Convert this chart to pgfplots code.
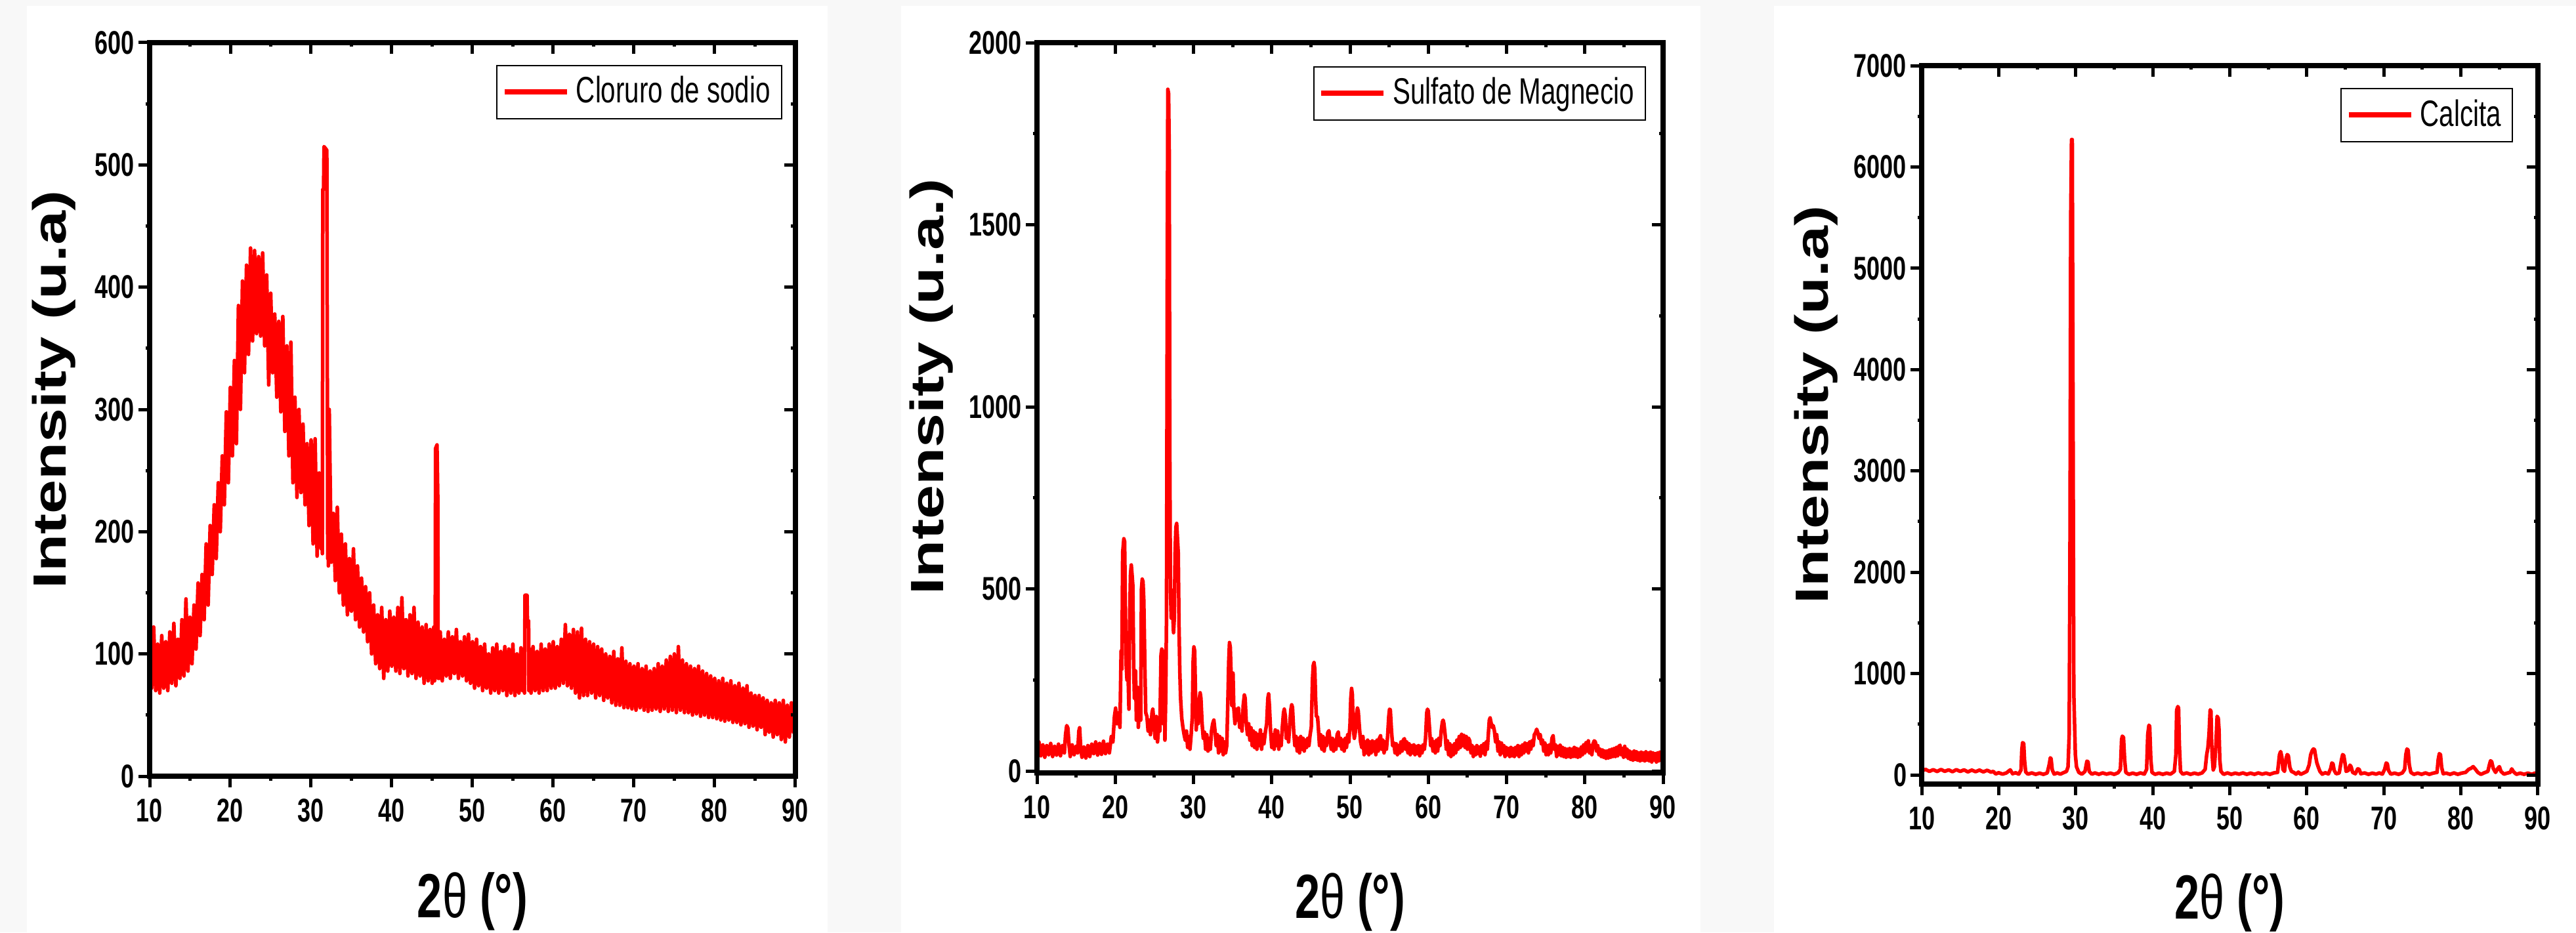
\documentclass[border=0pt]{standalone}
\usepackage{fontspec}
\usepackage{graphicx}
\usepackage{pgfplots}
\pgfplotsset{compat=1.18}

\newfontfamily\narrowsans{Liberation Sans}[FakeStretch=0.72]
\newfontfamily\plainsans{Liberation Sans}
\newcommand\ticklabfont{\fontsize{10}{12}\selectfont\narrowsans\bfseries}
\newcommand\xlabfont{\fontsize{19}{22}\selectfont\narrowsans\bfseries}
\newcommand\ylabfont{\fontsize{18.7}{22}\selectfont\plainsans\bfseries}
\newcommand\legfont{\fontsize{11.2}{13}\selectfont\narrowsans}
\definecolor{xrdred}{RGB}{255,0,0}
\definecolor{bggray}{RGB}{248,248,248}

\pgfplotsset{
  xrd/.style={
    scale only axis,
    xmin=10, xmax=90,
    xtick={10,20,...,90},
    minor x tick num=1, minor y tick num=1,
    axis line style={line width=1.6pt, line cap=rect},
    major tick length=3.4pt, minor tick length=1.3pt,
    tick style={black, line width=1pt},
  },
  xrdmain/.style={
    xrd,
    tick align=outside, tick pos=left,
    ticklabel style={font=\ticklabfont},
    yticklabel style={inner sep=1pt},
    /pgf/number format/assume math mode=true,
    /pgf/number format/1000 sep={},
    legend style={draw=black, line width=0.4pt, font=\legfont,
      anchor=north east, inner xsep=1.5pt, inner ysep=1.3pt},
    legend cell align=left,
    legend image code/.code={\draw[xrdred, line width=1.6pt] (0pt,0pt) -- (19pt,0pt);},
  },
  xrdtop/.style={
    xrd,
    tick align=inside, tick pos=right,
    xticklabels={}, yticklabels={},
  },
  spec/.style={xrdred, line width=1.1pt, line join=round, no marks},
  p1/.style={at={(45.6pt,47.6pt)}, anchor=south west, width=196.8pt, height=223.6pt,
    ymin=0, ymax=600, ytick={0,100,...,600}},
  p2/.style={at={(316pt,48.6pt)}, anchor=south west, width=190.8pt, height=222.6pt,
    ymin=-5, ymax=2000, ytick={0,500,...,2000}},
  p3/.style={at={(585.6pt,45.2pt)}, anchor=south west, width=187.8pt, height=219pt,
    ymin=-90, ymax=7000, ytick={0,1000,...,7000}},
}

\begin{document}
\begin{tikzpicture}
% page background and the three white panels
\fill[bggray] (0,0) rectangle (785pt,284.2pt);
\fill[white] (8.2pt,0) rectangle (252.2pt,282.4pt);
\fill[white] (274.6pt,0) rectangle (518.2pt,282.4pt);
\fill[white] (540.6pt,0) rectangle (785pt,282.4pt);

% ---------- Cloruro de sodio ----------
\begin{axis}[xrdmain, p1,
  xlabel={\xlabfont 2{\mdseries θ} (°)},
  xlabel style={at={(axis description cs:0.5,-0.13)}, anchor=north, inner sep=0pt},
  ylabel={\scalebox{1}[0.76]{\ylabfont Intensity (u.a)}},
  ylabel style={at={(axis description cs:-0.148,0.527)}, anchor=center, inner sep=0pt},
  legend style={at={(0.98,0.97)}},
]
\addplot[spec] coordinates {
(10.00,118)(10.25,72)(10.50,122)(10.75,70)(11.00,108)(11.25,68)(11.50,115)(11.75,72)
(12.00,110)(12.25,70)(12.50,118)(12.75,76)(13.00,125)(13.25,74)(13.50,112)(13.75,80)
(14.00,128)(14.25,82)(14.50,145)(14.75,86)(15.00,130)(15.25,92)(15.50,140)(15.75,104)
(16.00,158)(16.25,115)(16.50,165)(16.75,128)(17.00,190)(17.25,140)(17.50,205)(17.75,165)
(18.00,222)(18.25,178)(18.50,240)(18.75,200)(19.00,262)(19.25,222)(19.50,298)(19.75,240)
(20.00,318)(20.25,262)(20.50,340)(20.75,272)(21.00,385)(21.25,300)(21.50,405)(21.75,330)
(22.00,418)(22.25,345)(22.50,432)(22.75,356)(23.00,430)(23.25,362)(23.50,425)(23.75,360)
(24.00,428)(24.25,352)(24.50,410)(24.75,320)(25.00,395)(25.25,330)(25.50,378)(25.75,310)
(26.00,372)(26.25,298)(26.50,376)(26.75,282)(27.00,352)(27.25,262)(27.50,355)(27.75,240)
(28.00,310)(28.25,228)(28.50,300)(28.75,232)(29.00,288)(29.25,222)(29.50,272)(29.75,205)
(30.00,275)(30.25,190)(30.50,276)(30.75,180)(31.00,248)(31.25,186)(31.35,245)(31.40,182)
(31.45,480)(31.55,480)(31.60,515)(31.95,512)(32.02,305)(32.06,178)(32.10,260)(32.14,172)
(32.25,300)(32.50,175)(32.75,215)(33.00,160)(33.25,220)(33.50,150)(33.75,198)(34.00,140)
(34.25,190)(34.50,132)(34.75,178)(35.00,135)(35.25,186)(35.50,128)(35.75,172)(36.00,122)
(36.25,162)(36.50,118)(36.75,155)(37.00,110)(37.25,150)(37.50,100)(37.75,140)(38.00,92)
(38.25,132)(38.50,88)(38.75,138)(39.00,80)(39.25,128)(39.50,86)(39.75,135)(40.00,90)
(40.25,130)(40.50,86)(40.75,138)(41.00,84)(41.25,146)(41.50,88)(41.75,128)(42.00,82)
(42.25,132)(42.50,84)(42.75,138)(43.00,80)(43.25,126)(43.50,82)(43.75,122)(44.00,76)
(44.25,124)(44.50,78)(44.75,120)(45.00,76)(45.20,122)(45.30,78)(45.38,120)
(45.42,268)(45.60,271)(45.70,227)(45.74,80)(45.80,118)(45.88,80)
(46.00,118)(46.25,78)(46.50,112)(46.75,82)(47.00,118)(47.25,80)(47.50,114)(47.75,84)
(48.00,120)(48.25,80)(48.50,110)(48.75,82)(49.00,114)(49.25,78)(49.50,116)(49.75,76)
(50.00,110)(50.25,72)(50.50,112)(50.75,74)(51.00,106)(51.25,70)(51.50,108)(51.75,72)
(52.00,100)(52.25,68)(52.50,105)(52.75,70)(53.00,108)(53.25,68)(53.50,102)(53.75,70)
(54.00,106)(54.25,66)(54.50,104)(54.75,68)(55.00,108)(55.25,66)(55.50,100)(55.75,68)
(56.00,105)(56.20,70)(56.35,104)(56.44,68)(56.50,148)(56.75,148)(56.80,127)(56.95,127)
(56.98,70)(57.10,104)
(57.25,68)(57.50,106)(57.75,70)(58.00,102)(58.25,68)(58.50,108)(58.75,70)(59.00,104)
(59.25,70)(59.50,108)(59.75,72)(60.00,110)(60.25,72)(60.50,106)(60.75,74)(61.00,112)
(61.25,76)(61.50,124)(61.75,74)(62.00,116)(62.25,72)(62.50,120)(62.75,68)(63.00,118)
(63.25,64)(63.50,121)(63.75,66)(64.00,112)(64.25,66)(64.50,110)(64.75,68)(65.00,108)
(65.25,64)(65.50,106)(65.75,66)(66.00,104)(66.25,62)(66.50,100)(66.75,64)(67.00,98)
(67.25,60)(67.50,102)(67.75,58)(68.00,96)(68.25,58)(68.50,105)(68.75,56)(69.00,94)
(69.25,56)(69.50,92)(69.75,55)(70.00,90)(70.25,54)(70.50,92)(70.75,56)(71.00,88)
(71.25,54)(71.50,90)(71.75,53)(72.00,86)(72.25,54)(72.50,88)(72.75,55)(73.00,92)
(73.25,53)(73.50,90)(73.75,55)(74.00,95)(74.25,53)(74.50,98)(74.75,54)(75.00,100)
(75.25,52)(75.50,106)(75.75,54)(76.00,95)(76.25,52)(76.50,92)(76.75,52)(77.00,90)
(77.25,50)(77.50,88)(77.75,51)(78.00,90)(78.25,49)(78.50,86)(78.75,50)(79.00,84)
(79.25,48)(79.50,82)(79.75,48)(80.00,80)(80.25,47)(80.50,78)(80.75,46)(81.00,80)
(81.25,45)(81.50,76)(81.75,46)(82.00,78)(82.25,44)(82.50,74)(82.75,44)(83.00,76)
(83.25,42)(83.50,72)(83.75,43)(84.00,74)(84.25,40)(84.50,68)(84.75,41)(85.00,66)
(85.25,38)(85.50,66)(85.75,40)(86.00,64)(86.25,34)(86.50,62)(86.75,36)(87.00,60)
(87.25,32)(87.50,62)(87.75,34)(88.00,60)(88.25,30)(88.50,62)(88.75,28)(89.00,58)
(89.25,32)(89.50,60)(89.75,36)(90.00,50)
};
\addlegendentry{Cloruro de sodio}
\end{axis}
\begin{axis}[xrdtop, p1]
\end{axis}

% ---------- Sulfato de Magnecio ----------
\begin{axis}[xrdmain, p2,
  xlabel={\xlabfont 2{\mdseries θ} (°)},
  xlabel style={at={(axis description cs:0.5,-0.136)}, anchor=north, inner sep=0pt},
  ylabel={\scalebox{1}[0.76]{\ylabfont Intensity (u.a.)}},
  ylabel style={at={(axis description cs:-0.169,0.529)}, anchor=center, inner sep=0pt},
  legend style={at={(0.973,0.968)}},
]
\addplot[spec] coordinates {
(10.00,60)(10.25,80)(10.50,42)(10.75,72)(11.00,38)(11.25,70)(11.50,45)(11.75,76)
(12.00,40)(12.25,68)(12.50,44)(12.75,74)(13.00,42)(13.25,70)(13.50,50)
(13.65,100)(13.80,125)(13.95,118)(14.10,70)(14.25,40)(14.50,72)(14.75,45)(15.00,68)
(15.20,50)(15.35,110)(15.45,119)(15.60,60)(15.75,38)(16.00,66)(16.25,36)(16.50,70)
(16.75,40)(17.00,74)(17.25,48)(17.50,80)(17.75,44)(18.00,76)(18.25,46)(18.50,82)
(18.75,48)(19.00,74)(19.25,50)(19.50,95)(19.70,80)(19.90,150)(20.05,173)(20.20,130)
(20.40,160)(20.60,120)(20.75,330)(20.85,280)(20.95,600)(21.10,638)(21.20,630)(21.30,450)
(21.40,290)(21.50,250)(21.60,300)(21.75,170)(21.85,430)(21.95,540)(22.05,566)(22.15,540)
(22.25,510)(22.35,300)(22.45,200)(22.60,275)(22.70,140)(22.85,230)(22.95,120)(23.10,180)
(23.25,140)(23.35,500)(23.45,527)(23.55,520)(23.65,470)(23.80,270)(23.90,160)(24.05,150)
(24.20,110)(24.35,140)(24.50,100)(24.70,160)(24.80,170)(24.95,130)(25.10,90)(25.25,150)
(25.40,80)(25.55,120)(25.70,110)(25.85,320)(25.95,335)(26.05,330)(26.15,130)(26.25,275)
(26.35,85)(26.45,200)(26.55,420)(26.65,1400)(26.72,1872)(26.82,1860)(26.90,1700)(26.97,900)
(27.05,500)(27.15,420)(27.25,497)(27.35,430)(27.45,380)(27.55,420)(27.65,600)(27.75,670)
(27.85,680)(27.95,640)(28.05,600)(28.15,400)(28.25,275)(28.35,200)(28.50,145)(28.65,120)
(28.80,100)(28.95,85)(29.10,110)(29.25,65)(29.40,95)(29.55,60)(29.70,100)(29.85,150)
(29.95,300)(30.05,341)(30.15,330)(30.25,220)(30.35,113)(30.45,180)(30.60,130)(30.75,200)
(30.85,215)(30.95,200)(31.10,130)(31.25,90)(31.40,107)(31.55,60)(31.70,100)(31.85,55)
(32.00,90)(32.15,60)(32.30,110)(32.45,130)(32.60,140)(32.75,110)(32.90,70)(33.05,100)
(33.20,50)(33.35,95)(33.50,55)(33.65,90)(33.80,45)(33.95,80)(34.10,50)(34.25,70)
(34.40,200)(34.50,300)(34.60,353)(34.70,340)(34.80,270)(34.90,180)(35.05,269)(35.15,173)
(35.30,130)(35.45,170)(35.60,140)(35.75,173)(35.90,120)(36.05,150)(36.20,110)(36.35,180)
(36.50,209)(36.60,200)(36.75,130)(36.90,100)(37.05,130)(37.20,85)(37.35,119)(37.50,70)
(37.65,110)(37.80,65)(37.95,105)(38.10,60)(38.25,100)(38.40,70)(38.55,113)(38.70,60)
(38.85,100)(39.00,75)(39.20,110)(39.35,130)(39.50,200)(39.60,212)(39.70,180)(39.85,110)
(40.00,65)(40.15,100)(40.30,60)(40.45,113)(40.60,70)(40.75,110)(40.90,60)(41.05,95)
(41.20,70)(41.35,120)(41.50,160)(41.60,170)(41.75,150)(41.85,90)(42.00,120)(42.15,80)
(42.30,130)(42.45,170)(42.55,182)(42.65,175)(42.80,110)(42.95,70)(43.10,95)(43.25,55)
(43.40,90)(43.55,50)(43.70,95)(43.85,60)(44.00,90)(44.15,55)(44.30,85)(44.45,65)
(44.60,90)(44.75,70)(44.90,100)(45.05,120)(45.20,250)(45.30,290)(45.40,298)(45.50,280)
(45.60,200)(45.70,150)(45.85,149)(45.95,120)(46.10,70)(46.25,100)(46.40,60)(46.55,95)
(46.70,55)(46.85,90)(47.00,70)(47.15,105)(47.30,111)(47.45,85)(47.60,60)(47.75,90)
(47.90,55)(48.05,85)(48.20,60)(48.35,100)(48.50,107)(48.65,70)(48.80,90)(48.95,60)
(49.10,85)(49.25,55)(49.40,90)(49.55,65)(49.70,100)(49.85,80)(50.00,130)(50.10,200)
(50.20,227)(50.30,210)(50.40,120)(50.55,90)(50.70,110)(50.85,160)(50.95,173)(51.05,165)
(51.20,120)(51.35,80)(51.50,65)(51.65,95)(51.80,45)(51.95,80)(52.10,50)(52.25,85)
(52.40,45)(52.55,80)(52.70,50)(52.85,83)(53.00,55)(53.15,80)(53.30,45)(53.45,85)
(53.60,55)(53.75,90)(53.90,97)(54.05,60)(54.20,85)(54.35,50)(54.50,80)(54.65,60)
(54.80,95)(54.95,150)(55.05,170)(55.15,168)(55.30,110)(55.45,70)(55.60,77)(55.75,50)
(55.90,75)(56.05,45)(56.20,70)(56.35,50)(56.50,80)(56.65,55)(56.80,85)(56.95,89)
(57.10,60)(57.25,80)(57.40,50)(57.55,75)(57.70,45)(57.85,70)(58.00,50)(58.15,72)
(58.30,45)(58.45,68)(58.60,48)(58.75,70)(58.90,42)(59.05,68)(59.20,50)(59.35,72)
(59.50,60)(59.65,90)(59.80,160)(59.90,170)(60.00,165)(60.15,120)(60.30,70)(60.45,89)
(60.60,55)(60.75,80)(60.90,50)(61.05,85)(61.20,55)(61.35,90)(61.50,70)(61.65,110)
(61.80,135)(61.90,140)(62.00,130)(62.15,100)(62.30,60)(62.45,83)(62.60,45)(62.75,75)
(62.90,40)(63.05,70)(63.20,45)(63.35,75)(63.50,50)(63.65,85)(63.80,60)(63.95,95)
(64.10,65)(64.25,101)(64.40,70)(64.55,98)(64.70,65)(64.85,95)(65.00,60)(65.15,90)
(65.30,83)(65.45,50)(65.60,70)(65.75,40)(65.90,65)(66.05,45)(66.20,70)(66.35,48)
(66.50,66)(66.65,41)(66.80,70)(66.95,50)(67.10,75)(67.25,45)(67.40,80)(67.55,60)
(67.70,110)(67.80,140)(67.90,146)(68.00,135)(68.15,120)(68.30,125)(68.45,110)(68.60,80)
(68.75,100)(68.90,55)(69.05,80)(69.20,45)(69.35,77)(69.50,50)(69.65,70)(69.80,40)
(69.95,65)(70.10,45)(70.25,62)(70.40,40)(70.55,65)(70.70,42)(70.85,62)(71.00,40)
(71.15,65)(71.30,45)(71.45,70)(71.60,40)(71.75,68)(71.90,45)(72.05,72)(72.20,50)
(72.35,77)(72.50,55)(72.65,75)(72.80,50)(72.95,80)(73.10,60)(73.25,83)(73.40,70)
(73.55,100)(73.70,105)(73.85,115)(74.00,105)(74.15,90)(74.30,100)(74.45,75)(74.60,85)
(74.75,55)(74.90,77)(75.05,45)(75.20,70)(75.35,45)(75.50,72)(75.65,50)(75.80,90)
(75.95,97)(76.10,60)(76.25,72)(76.40,40)(76.55,68)(76.70,45)(76.85,71)(77.00,42)
(77.15,65)(77.30,40)(77.45,62)(77.60,38)(77.75,60)(77.90,40)(78.05,62)(78.20,38)
(78.35,60)(78.50,40)(78.65,65)(78.80,40)(78.95,62)(79.10,38)(79.25,60)(79.40,40)
(79.55,66)(79.70,45)(79.85,72)(80.00,50)(80.15,78)(80.30,55)(80.45,83)(80.60,50)
(80.75,70)(80.90,45)(81.05,75)(81.20,83)(81.35,80)(81.50,55)(81.65,70)(81.80,45)
(81.95,60)(82.10,40)(82.25,58)(82.40,38)(82.55,55)(82.70,35)(82.85,55)(83.00,36)
(83.15,58)(83.30,38)(83.45,60)(83.60,40)(83.75,62)(83.90,40)(84.05,65)(84.20,42)
(84.35,68)(84.50,71)(84.65,45)(84.80,62)(84.95,38)(85.10,68)(85.25,40)(85.40,60)
(85.55,35)(85.70,55)(85.85,32)(86.00,52)(86.15,30)(86.30,55)(86.45,32)(86.60,53)
(86.75,30)(86.90,50)(87.05,28)(87.20,52)(87.35,30)(87.50,50)(87.65,28)(87.80,53)
(87.95,30)(88.10,50)(88.25,28)(88.40,52)(88.55,25)(88.70,50)(88.85,30)(89.00,48)
(89.15,25)(89.30,50)(89.45,28)(89.60,52)(89.75,30)(90.00,45)
};
\addlegendentry{Sulfato de Magnecio}
\end{axis}
\begin{axis}[xrdtop, p2]
\end{axis}

% ---------- Calcita ----------
\begin{axis}[xrdmain, p3,
  xlabel={\xlabfont 2{\mdseries θ} (°)},
  xlabel style={at={(axis description cs:0.5,-0.124)}, anchor=north, inner sep=0pt},
  ylabel={\scalebox{1}[0.76]{\ylabfont Intensity (u.a)}},
  ylabel style={at={(axis description cs:-0.171,0.528)}, anchor=center, inner sep=0pt},
  legend style={at={(0.96,0.969)}},
]
\addplot[spec] coordinates {
(10.0,40)(10.5,55)(11.0,35)(11.5,52)(12.0,34)(12.5,54)(13.0,36)(13.5,50)(14.0,32)(14.5,52)
(15.0,35)(15.5,50)(16.0,30)(16.5,48)(17.0,32)(17.5,48)(18.0,30)(18.5,46)(19.0,28)(19.3,35)
(19.6,10)(20.0,22)(20.5,8)(21.0,20)(21.5,50)(21.8,12)(22.2,22)(22.6,8)(22.9,50)
(23.0,250)(23.1,319)(23.25,310)(23.35,150)(23.5,30)(23.8,8)(24.3,20)(24.8,6)(25.3,18)
(25.8,6)(26.3,20)(26.55,100)(26.7,169)(26.8,160)(26.95,50)(27.2,8)(27.6,20)(28.0,8)
(28.4,22)(28.8,35)(29.0,80)(29.15,400)(29.25,2200)(29.35,5500)(29.45,6270)(29.55,6270)
(29.65,3500)(29.75,800)(29.85,500)(29.95,200)(30.1,80)(30.4,25)(30.8,8)(31.2,35)
(31.45,136)(31.6,130)(31.75,35)(32.1,8)(32.5,20)(33.0,6)(33.5,20)(34.0,8)(34.5,18)
(35.0,6)(35.5,22)(35.8,55)(35.95,350)(36.05,383)(36.2,370)(36.35,150)(36.5,25)(36.9,6)
(37.4,18)(37.9,6)(38.4,20)(38.9,8)(39.2,55)(39.35,400)(39.5,491)(39.6,480)(39.75,150)
(39.9,25)(40.3,6)(40.8,18)(41.3,6)(41.8,18)(42.3,8)(42.8,35)(43.0,200)(43.1,640)
(43.25,675)(43.35,660)(43.45,300)(43.6,35)(43.9,8)(44.4,20)(44.9,6)(45.4,18)(45.9,8)
(46.4,20)(46.8,55)(47.0,200)(47.15,265)(47.3,400)(47.45,643)(47.55,630)(47.65,300)
(47.75,150)(47.85,50)(48.0,80)(48.2,300)(48.35,579)(48.5,560)(48.6,450)(48.7,150)
(48.85,35)(49.2,6)(49.7,20)(50.2,6)(50.7,18)(51.2,8)(51.7,20)(52.2,6)(52.7,18)(53.2,6)
(53.7,20)(54.2,8)(54.7,18)(55.2,6)(55.7,20)(56.2,25)(56.45,200)(56.6,231)(56.75,180)
(56.9,55)(57.1,35)(57.3,160)(57.45,201)(57.6,190)(57.8,75)(58.0,35)(58.3,25)(58.6,8)
(58.9,28)(59.2,6)(59.6,20)(60.0,35)(60.3,100)(60.5,200)(60.7,240)(60.85,256)(61.0,250)
(61.15,180)(61.3,120)(61.5,75)(61.7,35)(62.0,8)(62.4,22)(62.8,10)(63.1,65)(63.25,118)
(63.4,110)(63.55,45)(63.8,12)(64.2,18)(64.5,150)(64.65,201)(64.8,190)(64.95,120)
(65.1,35)(65.4,45)(65.6,97)(65.75,80)(65.95,25)(66.3,12)(66.6,60)(66.8,55)(67.0,12)
(67.5,20)(68.0,6)(68.5,18)(69.0,8)(69.4,20)(69.8,8)(70.1,55)(70.3,118)(70.45,110)
(70.6,45)(70.9,8)(71.4,18)(71.9,6)(72.4,20)(72.7,55)(72.85,200)(73.0,256)(73.15,245)
(73.3,100)(73.5,25)(73.9,6)(74.4,18)(74.9,6)(75.4,20)(75.9,6)(76.4,18)(76.9,25)
(77.05,150)(77.2,210)(77.35,200)(77.5,75)(77.7,12)(78.1,18)(78.6,6)(79.1,20)(79.6,6)
(80.1,18)(80.6,25)(81.0,55)(81.3,65)(81.6,82)(81.9,55)(82.2,25)(82.6,6)(83.0,20)
(83.5,35)(83.7,100)(83.85,140)(84.0,130)(84.2,65)(84.5,25)(84.8,65)(85.0,82)(85.2,35)
(85.6,8)(86.0,18)(86.4,25)(86.6,60)(86.8,35)(87.2,6)(87.7,18)(88.2,6)(88.7,18)(89.2,6)
(89.6,18)(90.0,12)
};
\addlegendentry{Calcita}
\end{axis}
\begin{axis}[xrdtop, p3]
\end{axis}
\end{tikzpicture}
\end{document}
